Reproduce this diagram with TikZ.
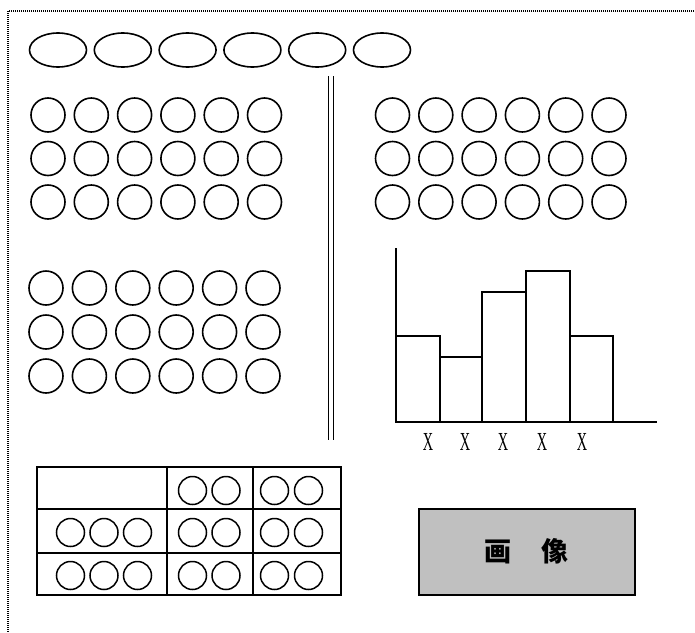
\documentclass[tikz,border=0pt]{standalone}
\usepackage{fontspec}
\setmainfont{Liberation Serif}
\newfontfamily\cjk{Noto Sans CJK SC}
\usetikzlibrary{shapes.geometric}
\definecolor{boxgrey}{RGB}{192,192,192}
\begin{document}
\begin{tikzpicture}[x=1pt,y=-1pt,
  dot/.style={circle,draw,line width=1.6pt,minimum size=34pt,inner sep=0pt},
  ov/.style={ellipse,draw,line width=1.6pt,minimum width=57pt,minimum height=34pt,inner sep=0pt},
  sdot/.style={circle,draw,line width=1.5pt,minimum size=28pt,inner sep=0pt},
  barline/.style={draw,line width=1.6pt},
  gridline/.style={draw,line width=1.5pt},
  xlab/.style={font=\fontsize{26}{26}\selectfont,inner sep=0pt},
  imgbox/.style={draw,line width=2pt,fill=boxgrey,minimum width=216pt,minimum height=86pt,inner sep=0pt,font=\cjk\bfseries\fontsize{27}{27}\selectfont}
]
\useasboundingbox (0,0) rectangle (695,632);
\begin{scope}
  \clip (0,0) rectangle (695,632);
  \draw[line width=1.6pt,dash pattern=on 1pt off 1pt] (8,11) rectangle (720,660);
\end{scope}
% top ellipses
\foreach \i in {0,...,5}
  \node[ov] (e\i) at ({58+64.8*\i},50) {};
% left top grid
\foreach \r/\y in {0/115,1/158.5,2/202}
  \foreach \c in {0,...,5}
    \node[dot] (a\r\c) at ({48+43.3*\c},\y) {};
% left bottom grid
\foreach \r/\y in {0/288,1/332,2/376}
  \foreach \c in {0,...,5}
    \node[dot] (b\r\c) at ({46+43.4*\c},\y) {};
% right grid
\foreach \r/\y in {0/115,1/158.5,2/202}
  \foreach \c in {0,...,5}
    \node[dot] (c\r\c) at ({392.5+43.3*\c},\y) {};
% double line
\coordinate (d1t) at (328.5,76); \coordinate (d1b) at (328.5,440);
\coordinate (d2t) at (333.5,76); \coordinate (d2b) at (333.5,440);
\draw[line width=1.7pt] (d1t) -- (d1b);
\draw[line width=1.7pt] (d2t) -- (d2b);
% histogram
\draw[barline] (396,248) -- (396,422) -- (657,422);
\draw[barline] (396,422) rectangle (440,336);
\draw[barline] (440,422) rectangle (482,357);
\draw[barline] (482,422) rectangle (526,292);
\draw[barline] (526,422) rectangle (570,271);
\draw[barline] (570,422) rectangle (613,336);
\foreach \i/\x in {1/428,2/465,3/503,4/542,5/582}
  \node[xlab] (x\i) at (\x,442) {\scalebox{0.55}[1]{X}};
% table
\draw[gridline] (37,467) rectangle (341,595);
\draw[gridline] (37,509) -- (341,509);
\draw[gridline] (37,553) -- (341,553);
\draw[gridline] (167,467) -- (167,595);
\draw[gridline] (253,467) -- (253,595);
\foreach \r/\y in {1/490.5,2/532.5,3/575.5}{
  \node[sdot] (t\r a) at (192.5,\y) {};
  \node[sdot] (t\r b) at (226,\y) {};
  \node[sdot] (t\r c) at (274.5,\y) {};
  \node[sdot] (t\r d) at (308.5,\y) {};
}
\foreach \r/\y in {2/532.5,3/575.5}{
  \node[sdot] (s\r a) at (70.5,\y) {};
  \node[sdot] (s\r b) at (104,\y) {};
  \node[sdot] (s\r c) at (137.5,\y) {};
}
% image box
\node[imgbox] (img) at (526.5,551.5) {画\hspace{30pt}像};
\end{tikzpicture}
\end{document}
